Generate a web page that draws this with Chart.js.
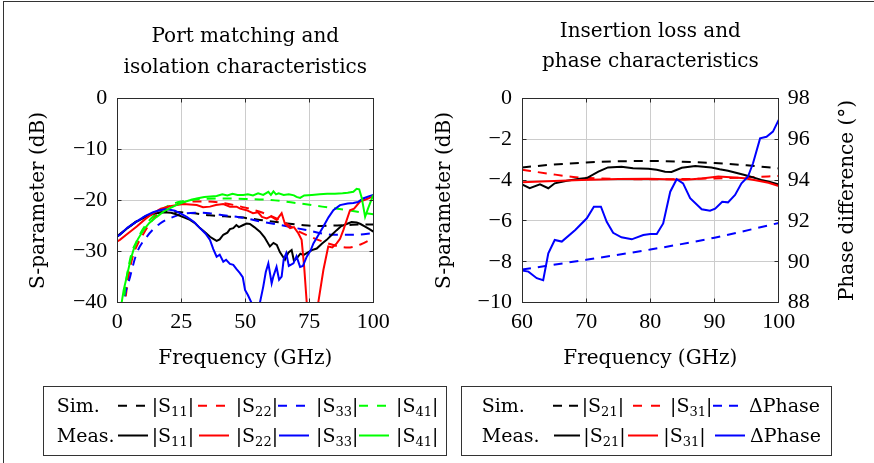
<!DOCTYPE html>
<html><head><meta charset="utf-8">
<script src="https://cdn.jsdelivr.net/npm/chart.js@4.4.0/dist/chart.umd.min.js"></script>
<style>
html,body{margin:0;padding:0;background:#fff;}
#wrap{position:relative;width:874px;height:463px;overflow:hidden;background:#fff;}
#frame{position:absolute;left:3px;top:1px;width:900px;height:500px;border-left:1px solid #333;border-top:1px solid #333;}
canvas{position:absolute;top:0;}
#c1{left:0;}
#c2{left:420px;}
svg{position:absolute;left:0;top:0;}
</style></head><body>
<div id="wrap">
<div id="frame"></div>
<canvas id="c1" width="430" height="380"></canvas>
<canvas id="c2" width="454" height="380"></canvas>
<svg width="874" height="463" font-family="DejaVu Serif" font-size="19" fill="#000">
  <rect x="43.5" y="386.5" width="403" height="69" fill="none" stroke="#333" stroke-width="1"/>
  <text x="56.7" y="412.3">Sim.</text>
  <line x1="118" y1="405.7" x2="145" y2="405.7" stroke="#000" stroke-width="2" stroke-dasharray="9 9"/>
  <text x="151.7" y="412.3">|S<tspan dy="4" font-size="13">11</tspan><tspan dy="-4">|</tspan></text>
  <line x1="198" y1="405.7" x2="225" y2="405.7" stroke="#ff0000" stroke-width="2" stroke-dasharray="9 9"/>
  <text x="235.7" y="412.3">|S<tspan dy="4" font-size="13">22</tspan><tspan dy="-4">|</tspan></text>
  <line x1="278" y1="405.7" x2="305" y2="405.7" stroke="#0000ff" stroke-width="2" stroke-dasharray="9 9"/>
  <text x="316" y="412.3">|S<tspan dy="4" font-size="13">33</tspan><tspan dy="-4">|</tspan></text>
  <line x1="359" y1="405.7" x2="386" y2="405.7" stroke="#00ff00" stroke-width="2" stroke-dasharray="9 9"/>
  <text x="396" y="412.3">|S<tspan dy="4" font-size="13">41</tspan><tspan dy="-4">|</tspan></text>
  <text x="56.7" y="441.7">Meas.</text>
  <line x1="118" y1="435.5" x2="148" y2="435.5" stroke="#000" stroke-width="2"/>
  <text x="151.7" y="441.7">|S<tspan dy="4" font-size="13">11</tspan><tspan dy="-4">|</tspan></text>
  <line x1="199" y1="435.5" x2="229" y2="435.5" stroke="#ff0000" stroke-width="2"/>
  <text x="235.7" y="441.7">|S<tspan dy="4" font-size="13">22</tspan><tspan dy="-4">|</tspan></text>
  <line x1="279" y1="435.5" x2="309" y2="435.5" stroke="#0000ff" stroke-width="2"/>
  <text x="316" y="441.7">|S<tspan dy="4" font-size="13">33</tspan><tspan dy="-4">|</tspan></text>
  <line x1="359" y1="435.5" x2="389" y2="435.5" stroke="#00ff00" stroke-width="2"/>
  <text x="396" y="441.7">|S<tspan dy="4" font-size="13">41</tspan><tspan dy="-4">|</tspan></text>

  <rect x="461.5" y="386.5" width="370" height="69" fill="none" stroke="#333" stroke-width="1"/>
  <text x="481.7" y="412.3">Sim.</text>
  <line x1="553" y1="405.7" x2="578" y2="405.7" stroke="#000" stroke-width="2" stroke-dasharray="9 7"/>
  <text x="581.7" y="412.3">|S<tspan dy="4" font-size="13">21</tspan><tspan dy="-4">|</tspan></text>
  <line x1="633" y1="405.7" x2="660" y2="405.7" stroke="#ff0000" stroke-width="2" stroke-dasharray="9 9"/>
  <text x="670" y="412.3">|S<tspan dy="4" font-size="13">31</tspan><tspan dy="-4">|</tspan></text>
  <line x1="713" y1="405.7" x2="738" y2="405.7" stroke="#0000ff" stroke-width="2" stroke-dasharray="9 7"/>
  <text x="749" y="412.3">ΔPhase</text>
  <text x="481.7" y="441.7">Meas.</text>
  <line x1="554" y1="435.5" x2="580" y2="435.5" stroke="#000" stroke-width="2"/>
  <text x="583.3" y="441.7">|S<tspan dy="4" font-size="13">21</tspan><tspan dy="-4">|</tspan></text>
  <line x1="628" y1="435.5" x2="658" y2="435.5" stroke="#ff0000" stroke-width="2"/>
  <text x="663.3" y="441.7">|S<tspan dy="4" font-size="13">31</tspan><tspan dy="-4">|</tspan></text>
  <line x1="715" y1="435.5" x2="745" y2="435.5" stroke="#0000ff" stroke-width="2"/>
  <text x="750" y="441.7">ΔPhase</text>
</svg>
</div>
<script>
// ---------------- Left chart data (Frequency GHz, dB) ----------------
const leftXTicks = [0, 25, 50, 75, 100];
const leftYTicks = [0, -10, -20, -30, -40];

const s11MeasF = [0, 1, 4, 7, 10, 14, 18, 21, 23, 26, 28.4, 30.5, 32.3, 34.5, 36.2, 37.5, 38.8, 40, 41.4, 43, 44, 45.3, 46.5, 47.5, 49.2, 50.5, 51.8, 53.5, 55.7, 57.5, 59.6, 61, 62.3, 63.5, 65.5, 66.8, 68.1, 69, 70.1, 71.5, 72.7, 74, 76, 77.9, 80, 81.8, 84, 85.7, 87.5, 89.6, 91.5, 93.5, 95, 96.8, 98.5, 100];
const s11MeasDb = [-27, -26.7, -25.4, -24.3, -23.5, -22.6, -22.3, -22.4, -22.7, -23.3, -23.8, -24.5, -25.4, -26.3, -27.1, -27.5, -27.9, -27.6, -26.7, -26.3, -25.6, -25.4, -24.8, -25.2, -24.8, -24.5, -24.6, -25.2, -26.1, -27.2, -29, -28.3, -28.7, -30.1, -31.6, -30.2, -29.7, -31.8, -31.3, -30.4, -30.7, -30.3, -29.7, -29.4, -28.4, -27.7, -26.6, -25.8, -25.0, -24.6, -24.2, -24.3, -24.6, -25.1, -25.6, -26.1];

const s11SimF = [0, 5, 10, 15, 20, 25, 30, 36, 42, 48, 55.7, 65, 72, 78, 84, 90, 95, 100];
const s11SimDb = [-27, -25, -23.3, -22.5, -22.2, -22.3, -22.5, -22.9, -23.1, -23.3, -23.8, -24.4, -24.8, -25.0, -24.9, -24.8, -24.7, -24.7];

const s22MeasF = [0, 1, 4, 7.6, 11, 14, 17, 20.6, 25.8, 31, 33.5, 36.2, 38.5, 41.4, 44, 46.6, 48, 50.5, 53, 55, 56.5, 58.4, 60, 62.3, 64.2, 65.5, 67.5, 69, 70.7, 72, 73, 74, 75, 77, 78.5, 80.5, 82.4, 84, 85.7, 87, 88.3, 90.9, 92.5, 94.8, 97, 99.4, 100];
const s22MeasDb = [-28, -27.7, -26.5, -25.1, -23.6, -22.5, -21.6, -21.1, -20.7, -20.9, -21.3, -21.2, -20.9, -20.7, -21.2, -21.2, -21.6, -21.9, -22.5, -22.3, -23.2, -23.5, -23.1, -23.8, -22.5, -24.6, -25.4, -25.2, -26.4, -27.7, -33, -40, -45, -45, -40, -33.6, -29, -29.2, -28.4, -27.5, -25.8, -21.9, -21.6, -20.2, -19.8, -19.3, -19.0];

const s22SimF = [2, 4, 6, 8, 10, 13, 16, 20, 25, 30, 35, 40, 50, 60, 66, 70, 75, 80, 85, 90, 95, 100];
const s22SimDb = [-45, -36, -31, -28.5, -26.7, -24.3, -22.5, -21.2, -20.5, -20.2, -20.2, -20.4, -21.4, -23, -24.5, -25.8, -27, -28, -28.8, -29.2, -28.6, -27.4];

const s33MeasF = [0, 1, 4, 7.6, 11, 14, 16.5, 18.6, 20.5, 22.5, 25, 27.1, 30, 32.3, 34.5, 36.2, 37.5, 38.8, 40, 41.4, 42.5, 44, 45.3, 46.5, 47.9, 49, 49.9, 51, 52.5, 54, 55.5, 57, 58, 59, 60.3, 61, 62.2, 63.2, 64.2, 65, 66, 67, 68.8, 70, 71.4, 72.5, 74, 75.5, 76.6, 78.5, 80.5, 82.5, 84.4, 87, 90, 92.2, 94, 96, 98.7, 100];
const s33MeasDb = [-27, -26.7, -25.3, -24.1, -23, -22.3, -21.9, -21.7, -21.8, -22, -22.6, -23.2, -24.2, -25.4, -26.5, -27.7, -29.5, -31, -30.6, -32, -31.6, -32.4, -32.6, -33.4, -34.2, -35, -37.5, -38.5, -40.1, -41.5, -40.5, -36.9, -34, -32.3, -36.2, -34.8, -33, -35.5, -34.9, -31.5, -30.3, -32.8, -32.3, -30.9, -33, -32.8, -31, -29.8, -28.4, -26.8, -25.1, -23.3, -21.9, -20.9, -20.6, -20.5, -20.3, -19.6, -19.1, -18.9];

const s33SimF = [1.5, 2.5, 5, 7.6, 11.5, 16.7, 21.9, 27.1, 32, 36, 40.1, 46.6, 50.5, 55.7, 63.6, 74, 84.4, 93.5, 100];
const s33SimDb = [-45, -40, -34.9, -30.3, -27.1, -24.5, -23.2, -22.5, -22.4, -22.5, -22.8, -23.2, -23.5, -24.1, -24.8, -25.8, -26.7, -26.7, -26.4];

const s41MeasF = [1, 1.7, 2.5, 3.7, 5, 6.3, 8, 10.2, 12.5, 15.4, 18, 20.6, 23, 25, 28, 31, 34, 38.8, 41, 43, 45, 47, 49.2, 51, 53, 55, 57, 59, 60, 61, 62, 63, 65, 67, 69, 70, 71.4, 73, 76, 79, 82, 85, 88, 90, 92.2, 93.5, 94.5, 95.5, 96.8, 98, 100];
const s41MeasDb = [-48, -40, -37.5, -34.9, -32, -29.7, -27.6, -25.8, -24.4, -23.2, -22.2, -21.5, -20.9, -20.5, -20.0, -19.6, -19.3, -19.1, -18.8, -19.0, -18.7, -18.9, -18.9, -18.8, -19.0, -18.6, -18.9, -18.3, -18.9, -18.2, -18.8, -18.6, -18.9, -18.8, -19.0, -19.3, -19.5, -19.0, -18.9, -18.8, -18.7, -18.7, -18.6, -18.5, -18.3, -17.7, -17.8, -19.5, -23.2, -21.5, -18.9];

const s41SimF = [1.5, 2.5, 5, 8, 10, 13, 16, 20, 25, 30, 40, 50, 60, 70, 80, 90, 96, 100];
const s41SimDb = [-48, -40, -31.5, -27.5, -25.6, -23.6, -22.3, -21, -20.2, -19.8, -19.6, -19.7, -19.9, -20.5, -21.2, -21.9, -22.4, -22.7];

// ---------------- Right chart data ----------------
const rightXTicks = [60, 70, 80, 90, 100];
const rightYTicks = [0, -2, -4, -6, -8, -10];
const phaseTicks = [88, 90, 92, 94, 96, 98];

const s21SimF = [60, 65, 70, 75, 80, 85, 90, 95, 100];
const s21SimDb = [-3.38, -3.24, -3.14, -3.08, -3.07, -3.1, -3.17, -3.28, -3.43];

const s31SimF = [60, 64, 68, 72, 76, 80, 85, 90, 95, 100];
const s31SimDb = [-3.5, -3.68, -3.85, -3.92, -3.95, -3.96, -3.95, -3.92, -3.87, -3.8];

const s21MeasF = [60, 61.2, 62.8, 64.1, 65.1, 67, 69, 70.1, 71.9, 73.4, 75.5, 77.3, 79.7, 81, 82.3, 83.3, 84.9, 87, 89.5, 90.8, 92.1, 94.7, 95.5, 97.3, 98.5, 100];
const s21MeasDb = [-4.21, -4.4, -4.21, -4.4, -4.16, -4.03, -3.94, -3.9, -3.59, -3.38, -3.35, -3.42, -3.45, -3.5, -3.59, -3.6, -3.4, -3.31, -3.39, -3.47, -3.54, -3.75, -3.82, -4.0, -4.08, -4.22];

const s31MeasF = [60, 65, 69.3, 75, 79.7, 85.4, 88, 90.6, 92.5, 94.7, 96.8, 98.4, 100];
const s31MeasDb = [-4.11, -4.05, -4.0, -3.95, -3.93, -3.98, -3.92, -3.83, -3.86, -3.91, -4.03, -4.13, -4.29];

const phaseSimF = [60, 70, 80, 90, 100];
const phaseSimDeg = [89.62, 90.1, 90.6, 91.18, 91.9];

const phaseMeasF = [60, 61, 62.3, 63.3, 64.1, 65.1, 66.2, 68.3, 70.1, 71.2, 72.3, 73.2, 74.2, 75.5, 77.1, 78.9, 80, 81, 82, 83.1, 84.1, 85.1, 86.2, 88, 89.3, 90.1, 91.2, 92.1, 93.2, 94.2, 95.2, 96, 97.1, 98.1, 99.1, 100];
const phaseMeasDeg = [89.57, 89.52, 89.2, 89.1, 90.42, 91.07, 90.99, 91.56, 92.13, 92.7, 92.7, 91.96, 91.42, 91.2, 91.1, 91.31, 91.36, 91.36, 91.88, 93.43, 94.04, 93.84, 93.11, 92.57, 92.5, 92.6, 92.94, 92.91, 93.27, 93.84, 94.16, 94.82, 96.04, 96.12, 96.37, 96.94];

// ---------------- helpers ----------------
const BLACK = '#000000', RED = '#ff0000', BLUE = '#0000ff', GREEN = '#00ff00';
const DASH = [9, 7];
const pts = (f, v) => f.map((x, i) => ({x: x, y: v[i]}));
function ds(f, v, color, dashed, order, axis) {
  const d = {
    data: pts(f, v), borderColor: color, backgroundColor: color, borderWidth: 2,
    borderDash: dashed ? DASH : [], pointRadius: 0, pointHoverRadius: 0, fill: false,
    order: order, tension: 0
  };
  if (dashed) { d.cubicInterpolationMode = 'monotone'; }
  if (axis) d.yAxisID = axis;
  return d;
}
const tickFont = {family: 'Liberation Serif', size: 22};
const labelFont = {family: 'DejaVu Serif', size: 20};
const minus = v => String(v).replace('-', '\u2212');
function align(p) { return Math.round(p - 0.5) + 0.5; }

const decoPlugin = {
  id: 'deco',
  afterDraw(chart, args, o) {
    const ctx = chart.ctx, a = chart.chartArea;
    ctx.save();
    const L = align(a.left), R = align(a.right), T = align(a.top), B = align(a.bottom);
    ctx.strokeStyle = '#2b2b2b'; ctx.lineWidth = 1;
    // inner tick marks
    ctx.beginPath();
    const xs = chart.scales.x;
    xs.ticks.forEach(t => { const p = align(xs.getPixelForValue(t.value)); ctx.moveTo(p, B); ctx.lineTo(p, B - 4); ctx.moveTo(p, T); ctx.lineTo(p, T + 4); });
    const ys = chart.scales.y;
    ys.ticks.forEach(t => { const p = align(ys.getPixelForValue(t.value)); ctx.moveTo(L, p); ctx.lineTo(L + 4, p); ctx.moveTo(R, p); ctx.lineTo(R - 4, p); });
    ctx.stroke();
    ctx.strokeRect(L, T, R - L, B - T);
    // chart title
    ctx.fillStyle = '#000';
    ctx.font = '20px "DejaVu Serif"';
    ctx.textAlign = 'center'; ctx.textBaseline = 'alphabetic';
    const cx = (a.left + a.right) / 2;
    o.title.forEach((line, i) => ctx.fillText(line, cx, o.baselines[i]));
    if (o.rightTitle) {
      ctx.translate(o.rightTitleX, (a.top + a.bottom) / 2);
      ctx.rotate(-Math.PI / 2);
      ctx.textBaseline = 'middle';
      ctx.fillText(o.rightTitle, 0, 0);
    }
    ctx.restore();
  }
};

function xScale(min, max, ticks) {
  return {
    type: 'linear', min: min, max: max,
    afterBuildTicks: s => { s.ticks = ticks.map(v => ({value: v})); },
    afterFit: s => { s.height = 77.3; },
    grid: {color: '#cccccc', lineWidth: 1, drawTicks: false},
    border: {display: false},
    ticks: {font: tickFont, color: '#000', padding: 6, maxRotation: 0, autoSkip: false},
    title: {display: true, text: 'Frequency (GHz)', font: labelFont, color: '#000', padding: {top: 0, bottom: 9}}
  };
}
function yScale(min, max, ticks, width, titlePad) {
  return {
    type: 'linear', position: 'left', min: min, max: max,
    afterBuildTicks: s => { s.ticks = ticks.map(v => ({value: v})); },
    afterFit: s => { s.width = width; },
    grid: {color: '#cccccc', lineWidth: 1, drawTicks: false},
    border: {display: false},
    ticks: {font: tickFont, color: '#000', padding: 10, callback: v => minus(v)},
    title: {display: true, text: 'S-parameter (dB)', font: labelFont, color: '#000', padding: {top: titlePad, bottom: 0}}
  };
}

Chart.defaults.animation = false;

new Chart(document.getElementById('c1'), {
  type: 'line',
  data: {datasets: [
    ds(s41MeasF, s41MeasDb, GREEN, false, 1),
    ds(s33MeasF, s33MeasDb, BLUE, false, 2),
    ds(s22MeasF, s22MeasDb, RED, false, 3),
    ds(s11MeasF, s11MeasDb, BLACK, false, 4),
    ds(s41SimF, s41SimDb, GREEN, true, 5),
    ds(s33SimF, s33SimDb, BLUE, true, 6),
    ds(s22SimF, s22SimDb, RED, true, 7),
    ds(s11SimF, s11SimDb, BLACK, true, 8)
  ]},
  options: {
    responsive: false, animation: false, events: [],
    layout: {padding: {top: 98.3, left: 0, right: 56.7, bottom: 0}},
    plugins: {legend: {display: false}, tooltip: {enabled: false},
      deco: {title: ['Port matching and', 'isolation characteristics'], baselines: [41.7, 73]}},
    scales: {
      x: xScale(0, 100, leftXTicks),
      y: yScale(-40, 0, leftYTicks, 117.3, 27)
    }
  },
  plugins: [decoPlugin]
});

new Chart(document.getElementById('c2'), {
  type: 'line',
  data: {datasets: [
    ds(phaseMeasF, phaseMeasDeg, BLUE, false, 1, 'y2'),
    ds(s31MeasF, s31MeasDb, RED, false, 2),
    ds(s21MeasF, s21MeasDb, BLACK, false, 3),
    ds(phaseSimF, phaseSimDeg, BLUE, true, 4, 'y2'),
    ds(s31SimF, s31SimDb, RED, true, 5),
    ds(s21SimF, s21SimDb, BLACK, true, 6)
  ]},
  options: {
    responsive: false, animation: false, events: [],
    layout: {padding: {top: 98.3, left: 0, right: 0, bottom: 0}},
    plugins: {legend: {display: false}, tooltip: {enabled: false},
      deco: {title: ['Insertion loss and', 'phase characteristics'], baselines: [36.7, 66.7],
             rightTitle: 'Phase difference (\u00B0)', rightTitleX: 428}},
    scales: {
      x: xScale(60, 100, rightXTicks),
      y: yScale(-10, 0, rightYTicks, 102, 13),
      y2: {
        type: 'linear', position: 'right', min: 88, max: 98,
        afterBuildTicks: s => { s.ticks = phaseTicks.map(v => ({value: v})); },
        afterFit: s => { s.width = 95.3; },
        grid: {display: false, drawTicks: false},
        border: {display: false},
        ticks: {font: tickFont, color: '#000', padding: 9}
      }
    }
  },
  plugins: [decoPlugin]
});
</script>
</body></html>
